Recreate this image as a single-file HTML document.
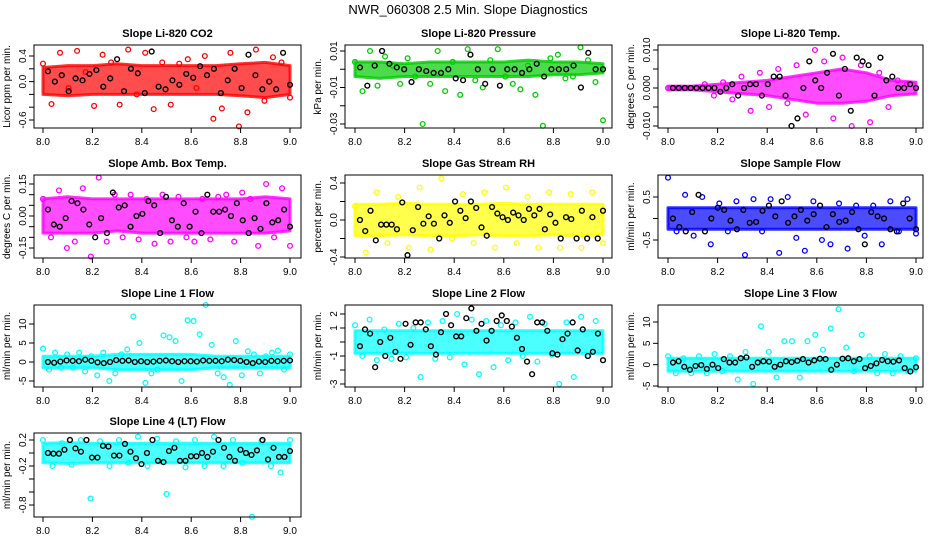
<!DOCTYPE html>
<html><head><meta charset="utf-8"><style>
body{margin:0;background:#fff;width:936px;height:540px;overflow:hidden}
svg{display:block;font-family:"Liberation Sans",sans-serif}
</style></head><body>
<svg id="c" width="936" height="540">
<text x="468" y="14" text-anchor="middle" font-size="13">NWR_060308  2.5 Min. Slope Diagnostics</text>
</svg>
<script>
// ----- data -----
const xTicks=[8.0,8.2,8.4,8.6,8.8,9.0];
const xTickLabels=["8.0","8.2","8.4","8.6","8.8","9.0"];
const titles=["Slope Li-820 CO2","Slope Li-820 Pressure","Slope Li-820 Temp.","Slope Amb. Box Temp.","Slope Gas Stream RH","Slope Sample Flow","Slope Line 1 Flow","Slope Line 2 Flow","Slope Line 3 Flow","Slope Line 4 (LT) Flow"];
const yTitles=["Licor ppm per min.","kPa per min.","degrees C per min.","degrees C per min.","percent per min.","ml/min per min.","ml/min per min.","ml/min per min.","ml/min per min.","ml/min per min."];
const colors=["#ff0000","#00cc00","#ff00ff","#ff00ff","#ffff00","#0000ff","#00ffff","#00ffff","#00ffff","#00ffff"];
const yTicks=[[-0.6,-0.4,-0.2,0,0.2,0.4],[-0.03,-0.02,-0.01,0,0.01],[-0.01,-0.005,0,0.005,0.01],[-0.15,-0.1,-0.05,0,0.05,0.1,0.15],[-0.4,-0.2,0,0.2,0.4],[-0.5,0,0.5],[-5,0,5,10],[-3,-2,-1,0,1,2],[-5,0,5,10],[-0.8,-0.6,-0.4,-0.2,0,0.2]];
const yTickLabels=[{"-0.6":"-0.6","0":"0.0","0.4":"0.4"},{"0.01":"0.01","-0.01":"-0.01","-0.03":"-0.03"},{"0.01":"0.010","0":"0.000","-0.01":"-0.010"},{"0.15":"0.15","0":"0.00","-0.15":"-0.15"},{"0.4":"0.4","0":"0.0","-0.4":"-0.4"},{"0.5":"0.5","-0.5":"-0.5"},{"10":"10","5":"5","0":"0","-5":"-5"},{"2":"2","1":"1","-1":"-1","-3":"-3"},{"10":"10","5":"5","0":"0","-5":"-5"},{"0.2":"0.2","-0.2":"-0.2","-0.8":"-0.8"}];
const bandLo=[[-0.2,-0.22,-0.2,-0.2,-0.2,-0.2,-0.2,-0.2,-0.22,-0.25,-0.2],[-0.004,-0.005,-0.004,-0.004,-0.004,-0.004,-0.004,-0.004,-0.003,-0.003,-0.002],[-0.0005,-0.0005,-0.001,-0.0015,-0.002,-0.003,-0.004,-0.004,-0.0035,-0.002,-0.0015],[-0.08,-0.08,-0.08,-0.07,-0.08,-0.08,-0.08,-0.08,-0.08,-0.08,-0.07],[-0.17,-0.17,-0.16,-0.17,-0.17,-0.16,-0.17,-0.17,-0.16,-0.17,-0.16],[-0.25,-0.25,-0.25,-0.25,-0.25,-0.25,-0.25,-0.25,-0.25,-0.25,-0.25],[-1.5,-1.5,-1.5,-2,-2,-2,-2,-1.5,-1.5,-1.5,-1.5],[-0.8,-0.8,-0.8,-0.8,-0.8,-0.8,-0.8,-0.8,-0.8,-0.8,-0.8],[-1.5,-1.5,-1.5,-1.5,-1.5,-1.5,-1.5,-1.5,-1.5,-1.5,-1.5],[-0.15,-0.16,-0.15,-0.15,-0.15,-0.15,-0.15,-0.15,-0.15,-0.15,-0.15]];
const bandHi=[[0.22,0.25,0.25,0.28,0.25,0.25,0.25,0.25,0.28,0.3,0.25],[0.004,0.004,0.003,0.004,0.004,0.004,0.004,0.005,0.004,0.004,0.003],[0.0005,0.0005,0.001,0.0015,0.002,0.003,0.004,0.005,0.004,0.002,0.0015],[0.08,0.09,0.08,0.08,0.08,0.08,0.08,0.08,0.08,0.09,0.08],[0.17,0.17,0.18,0.17,0.17,0.17,0.18,0.17,0.17,0.17,0.17],[0.25,0.25,0.25,0.25,0.25,0.25,0.25,0.25,0.25,0.25,0.25],[1.5,1.5,1.5,2,2,2,2,1.5,1.5,1.5,1.5],[0.8,0.8,0.8,0.8,0.8,0.8,0.8,0.8,0.8,0.8,0.8],[1.5,1.5,1.5,1.5,1.5,1.5,1.5,1.5,1.5,1.5,1.5],[0.15,0.16,0.15,0.15,0.15,0.15,0.15,0.15,0.15,0.15,0.15]];
const outliers=[
[0.28,-0.35,0.45,-0.1,0.48,0.15,-0.38,0.42,0.3,-0.36,0.5,-0.2,0.45,-0.43,0.3,-0.36,0.28,0.35,-0.1,0.4,-0.58,-0.42,0.45,-0.7,-0.48,0.5,-0.3,0.38,0.3,-0.25],
[0.004,-0.012,0.01,-0.009,0.007,0.002,-0.008,0.006,-0.004,-0.03,-0.008,0.01,-0.012,0.004,-0.014,0.011,-0.006,-0.01,0.005,0.011,-0.004,-0.008,-0.011,0.002,-0.014,-0.031,0.006,0.008,-0.005,-0.004,0.012,0.005,-0.007,-0.028],
[0,0,0,0,0.001,-0.002,0.0015,-0.003,0.003,-0.006,0.004,-0.005,0.005,-0.004,0.006,-0.007,0.01,0.007,-0.008,0.008,-0.01,0.006,-0.009,0.004,-0.005,0.002,0.001,0],
[0.08,-0.1,0.12,-0.15,-0.12,0.13,-0.19,0.18,-0.12,0.1,-0.1,0.1,-0.11,0.08,-0.13,0.1,-0.12,0.09,-0.1,-0.12,0.08,-0.11,0.09,0.1,-0.12,0.11,0.08,-0.14,0.15,-0.1,0.13,-0.14],
[0.15,-0.35,0.3,-0.25,0.25,-0.3,0.35,-0.32,0.45,-0.2,0.28,-0.25,0.3,-0.3,0.35,-0.25,0.25,-0.3,0.3,-0.3,0.28,-0.3,0.3,-0.25],
[0.95,-0.3,0.55,-0.4,0.5,-0.6,0.35,-0.3,0.4,-0.85,0.45,-0.3,0.45,-0.8,0.5,-0.45,-0.75,0.4,-0.5,-0.6,0.35,-0.7,0.3,-0.4,0.3,-0.6,0.4,-0.3,0.45,-0.35],
[3.5,-2,2.5,-1.5,2,-1.5,2.5,-2.5,1.5,-3.5,2.5,-5,-3,2,3.3,12,5,-5.5,-3,-2,7,6.5,5.5,-5,11,10.8,7.3,15,4.5,-3,-4,-6,5.5,-3.5,2.8,2,-3,1.5,2.5,3,-2,2],
[1.2,-1,1.6,-1.3,0.9,-1.2,1.3,-1.1,1.0,-2.5,1.4,-1.2,1.5,-1.1,2.0,-1.6,1.6,-2.3,1.5,-1.8,1.2,-1.3,1.4,-1.0,1.8,-1.4,1.3,-0.9,-3,1.4,-2.5,1.8,-1.0,1.5,-1.3],
[2,-2,1.5,-2,2,-2,2.5,-1.5,2,-3.5,3,-4.5,9,3,-3,5.5,5.5,-3,5.5,7,3.5,8.5,13,4,-1.5,7,2,-2,2.5,-2,2,-1.5,1.5],
[0.2,-0.2,0.15,-0.18,0.2,-0.7,0.18,-0.2,0.2,-0.15,0.25,-0.2,0.22,-0.63,0.18,-0.22,0.2,-0.2,0.25,-0.2,0.2,-0.15,-0.98,0.18,-0.2,-0.3,0.2]];
const blackPts=[
[0.16,0,0.1,-0.15,0.05,0.02,0.12,0.18,-0.08,0.05,0.35,-0.15,0.2,0.13,-0.18,0.47,-0.08,-0.12,0.02,-0.05,0.12,0.06,0.24,0.1,0.2,-0.18,0.02,0.2,-0.1,0.42,0.1,-0.12,0,-0.12,0.45,-0.05],
[0.001,-0.009,0.002,0.01,0.003,0.001,0,-0.007,0,-0.001,-0.002,-0.002,0,-0.005,-0.006,0.008,0,-0.008,0,-0.009,0,0,-0.002,0,0.003,-0.004,0,0,0,0.002,-0.01,0.009,0,0],
[0,0,0,0,0,0,0,0,-0.001,0,0.001,-0.002,0,0.001,0.001,-0.002,0.001,0.003,0.003,-0.002,-0.01,-0.008,0,0.007,0.002,0,0.004,0.009,-0.002,0.005,-0.006,0.008,0.007,0.006,-0.002,0.008,0.002,0.003,0,0,0.001,0],
[0.03,-0.04,-0.05,-0.01,0.07,0.06,0.03,-0.04,-0.1,-0.01,-0.08,0.11,0.04,0.05,-0.05,0,0.01,0.07,0.05,-0.08,0.09,-0.02,-0.05,0.06,-0.05,0.02,-0.08,0.1,0.02,0.02,0.03,0,0.06,-0.02,-0.08,-0.01,-0.06,0.06,-0.03,-0.02,0.03,-0.05],
[0,-0.12,0.1,-0.22,-0.05,-0.05,-0.05,-0.1,0.19,-0.38,-0.11,0.14,-0.04,0.04,-0.04,-0.2,0.05,-0.03,0.2,0.1,0.02,0.2,0.13,-0.08,-0.17,0.14,0.07,0.03,0,0.08,0.05,0,0.12,0.05,0.12,-0.1,0.06,-0.03,-0.2,0.03,0.01,-0.2,0.1,-0.2,0.03,-0.2,0.1],
[0,-0.2,-0.3,0.15,0.55,-0.3,0,0.25,0.2,-0.05,-0.25,0.2,-0.1,-0.08,0.18,0.3,0.05,0.4,-0.1,0.05,0.2,-0.05,0.1,0.3,-0.2,0.1,-0.08,-0.05,0.15,-0.25,-0.6,0.15,0.05,0,-0.25,-0.3,0.35,0,-0.25],
[0,-0.2,0.1,0.4,0.3,0.2,0.6,0.3,-0.1,-0.3,0,0.5,0.3,0.4,0,0.2,0,0.1,0.3,0.4,0.2,0,0.2,0.2,0.1,0.4,0.3,0.3,0.2,0.6,0.5,0.3,0,-0.3,0.1,0,0.3,0.2,0.3,0.4],
[-0.3,0.9,0.6,-1.8,0,-1.0,0.3,-0.7,-1.2,1.3,-0.2,1.4,1.4,0.9,-0.3,-0.9,0.7,2.0,1.2,0.4,0.4,1.7,2.4,0.8,1.3,0.1,0.8,1.5,1.9,1.5,1.1,0.3,-0.5,-1.4,-2.3,1.4,1.4,0.8,-0.8,-0.9,0.2,0.6,1.4,-0.6,0.9,-1.0,-0.7,0.6,-1.3],
[0.5,0.8,-0.5,-1.2,-0.3,-0.1,-1,0,-0.8,1.3,0.5,0.5,1.5,1.7,-0.5,0.5,0.8,0.7,-0.5,0,0.8,0.6,0.9,1.3,0.5,1.0,1.4,1.3,-1.2,0,1.4,1.5,0.8,1.3,-0.8,-0.3,0.3,1.1,0.8,0.7,1.0,-0.8,-1.6,-0.6],
[0,-0.01,-0.01,0.05,0.2,0.07,0.02,0.2,-0.07,-0.07,0.11,0.1,-0.04,-0.04,0.14,0.02,-0.08,-0.17,0,0.2,-0.12,-0.14,0.03,0.08,-0.12,-0.12,-0.05,-0.05,0,-0.06,0.02,0.2,0.08,-0.06,-0.12,0.05,0,-0.03,0.04,0.2,-0.1,0.08,-0.06,-0.06,0.03]];
// ----- layout (pixels) -----
const colL=[34,345,658],colR=[301,612,923],colX8=[43,355,668],colX9=[290,603,916];
const rowT=[45,175,305,433],rowB=[128,258,387,517];
const yCal=[[0.4,56,-0.6,120],[0.01,51,-0.03,124],[0.01,50,-0.01,126],[0.15,184,-0.15,248],[0.4,183,-0.4,257],[0.5,197,-0.5,240],[10,324,-5,381],[2,314,-3,384],[10,322,-5,386],[0.2,440,-0.8,505]];
const NS="http://www.w3.org/2000/svg",svg=document.getElementById("c");
function mk(tag,attrs,parent,text){const e=document.createElementNS(NS,tag);for(const k in attrs)e.setAttribute(k,attrs[k]);if(text!==undefined)e.textContent=text;parent.appendChild(e);return e;}
titles.forEach((t,i)=>{
  const r=Math.floor(i/3),c=i%3;
  const L=colL[c],R=colR[c],T=rowT[r],B=rowB[r];
  const xs=v=>colX8[c]+(v-8)*(colX9[c]-colX8[c]);
  const cal=yCal[i];const ys=v=>cal[1]+(v-cal[0])*(cal[3]-cal[1])/(cal[2]-cal[0]);
  const g=mk("g",{},svg);
  
  
  const tt=mk("text",{x:(L+R)/2,y:T-8,"text-anchor":"middle","font-size":"11","font-weight":"bold"},g,t);
  
  
  const lo=bandLo[i],hi=bandHi[i],n=lo.length;let d="";
  for(let k=0;k<n;k++)d+=(k?"L":"M")+xs(8+k/(n-1)).toFixed(1)+","+ys(hi[k]).toFixed(1);
  for(let k=n-1;k>=0;k--)d+="L"+xs(8+k/(n-1)).toFixed(1)+","+ys(lo[k]).toFixed(1);
  const band=mk("path",{d:d+"Z",fill:colors[i],"fill-opacity":"0.7",stroke:colors[i],"stroke-opacity":"0.8","stroke-width":"3","stroke-linejoin":"round"},g);
  
  
  const o=outliers[i];
  o.forEach((v,k)=>{const p=mk("circle",{cx:xs(8+k/(o.length-1)),cy:ys(v),r:2.4,fill:"none",stroke:colors[i],"stroke-width":1.3},g);
    
    });
  const bk=blackPts[i];
  bk.forEach((v,k)=>{const p=mk("circle",{cx:xs(8.02+0.98*k/(bk.length-1)),cy:ys(v),r:2.4,fill:"none",stroke:"#000","stroke-width":1.4},g);
    
    });
  const box=mk("rect",{x:L,y:T,width:R-L,height:B-T,fill:"none",stroke:"#000","stroke-width":1},g);
  
  
  xTicks.forEach((v,k)=>{const x=xs(v);mk("line",{x1:x,x2:x,y1:B,y2:B+5,stroke:"#000"},g);
    const l=mk("text",{x:x,y:B+17,"text-anchor":"middle","font-size":"10"},g,xTickLabels[k]);
    
    });
  yTicks[i].forEach(v=>{const y=ys(v);mk("line",{x1:L-5,x2:L,y1:y,y2:y,stroke:"#000"},g);
    const lab=yTickLabels[i][String(v)];
    if(lab!==undefined){const l=mk("text",{x:L-8,y:y,"text-anchor":"middle","font-size":"10",transform:"rotate(-90 "+(L-8)+" "+y+")"},g,lab);
      
      }});
  const yl=mk("text",{x:L-24,y:(T+B)/2,"text-anchor":"middle","font-size":"10",transform:"rotate(-90 "+(L-24)+" "+((T+B)/2)+")"},g,yTitles[i]);
  
  
});
</script>
</body></html>
